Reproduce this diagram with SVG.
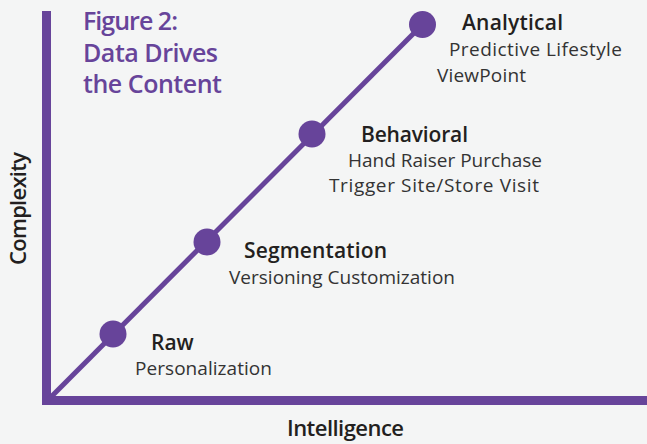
<svg xmlns="http://www.w3.org/2000/svg" width="647" height="444" viewBox="0 0 647 444">
<style>
.title{font-family:"Open Sans","Liberation Sans",sans-serif;font-size:25px;font-weight:600;fill:#67449a}
.head{font-family:"Open Sans","Liberation Sans",sans-serif;font-size:21px;font-weight:600;fill:#231f20}
.sub{font-family:"Open Sans","Liberation Sans",sans-serif;font-size:19px;font-weight:400;fill:#333}
.axis{font-family:"Open Sans","Liberation Sans",sans-serif;font-size:22px;font-weight:600;fill:#231f20}
.dot{fill:#67449a}
</style>
<rect width="647" height="444" fill="#f4f5f5"/>
<g id="axes" fill="#67449a">
<rect x="42" y="11" width="9" height="394"/>
<rect x="42" y="396" width="605" height="9"/>
</g>
<g id="title">
<text class="title" x="83" y="30" textLength="95">Figure 2:</text>
<text class="title" x="83" y="62" textLength="135">Data Drives</text>
<text class="title" x="83" y="93" textLength="139">the Content</text>
</g>
<g id="connectors">
<line x1="48" y1="400" x2="422" y2="25" stroke="#67449a" stroke-width="5"/>
</g>
<g id="node-raw">
<circle class="dot" cx="113" cy="334" r="13.5"/>
<text class="head" x="151" y="350">Raw</text>
<text class="sub" x="135" y="375" textLength="137">Personalization</text>
</g>
<g id="node-segmentation">
<circle class="dot" cx="207" cy="242" r="13.5"/>
<text class="head" x="244" y="258" textLength="143">Segmentation</text>
<text class="sub" x="229" y="284" textLength="226">Versioning Customization</text>
</g>
<g id="node-behavioral">
<circle class="dot" cx="312" cy="134" r="13.5"/>
<text class="head" x="361" y="142" textLength="107">Behavioral</text>
<text class="sub" x="348" y="167" textLength="194">Hand Raiser Purchase</text>
<text class="sub" x="329" y="192" textLength="210">Trigger Site/Store Visit</text>
</g>
<g id="node-analytical">
<circle class="dot" cx="422.5" cy="24.5" r="13.5"/>
<text class="head" x="462" y="30" textLength="101">Analytical</text>
<text class="sub" x="449" y="56" textLength="173">Predictive Lifestyle</text>
<text class="sub" x="437" y="82" textLength="89">ViewPoint</text>
</g>
<g id="axis-labels">
<text class="axis" x="287" y="436" textLength="117">Intelligence</text>
<text class="axis" transform="translate(26 265) rotate(-90)" textLength="113">Complexity</text>
</g>
</svg>
